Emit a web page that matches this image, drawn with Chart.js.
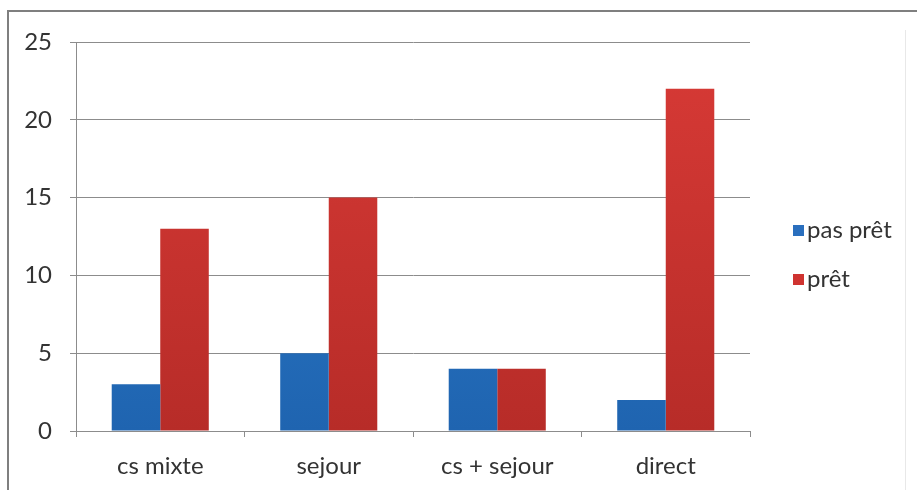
<!DOCTYPE html>
<html>
<head>
<meta charset="utf-8">
<script src="https://cdn.jsdelivr.net/npm/chart.js@4.4.1/dist/chart.umd.min.js"></script>
<style>
  html, body { margin: 0; padding: 0; background: #ffffff; }
  #wrap { width: 917px; height: 490px; position: relative; }
</style>
</head>
<body>
<div id="wrap"><canvas id="c" width="917" height="490"></canvas></div>
<script>
// Categories and series
const categories = ['cs mixte', 'sejour', 'cs + sejour', 'direct'];
const pasPret = [3, 5, 4, 2];
const pret = [13, 15, 4, 22];
const seriesNames = ['pas prêt', 'prêt'];
const yTicks = [0, 5, 10, 15, 20, 25];

const FONT = "Lato, 'Open Sans', 'Liberation Sans', sans-serif";
const FONT_SIZE = 24;
const TEXT = '#333333';
const GRID = '#8c8c8c';

// Vertical shading for the bars, lighter at the top, deeper at the base
function barFill(top, bottom) {
  return (ctx) => {
    const chart = ctx.chart;
    const area = chart.chartArea;
    if (!area) return top;
    const g = chart.ctx.createLinearGradient(0, area.top, 0, area.bottom);
    g.addColorStop(0, top);
    g.addColorStop(1, bottom);
    return g;
  };
}

// Frame around the whole figure
const framePlugin = {
  id: 'frame',
  beforeDraw(chart) {
    const c = chart.ctx;
    c.save();
    c.strokeStyle = '#7f7f7f';
    c.lineWidth = 2;
    c.beginPath();
    c.moveTo(8, 492);
    c.lineTo(8, 11);
    c.lineTo(917, 11);
    c.stroke();
    c.strokeStyle = '#e8e8e8';
    c.lineWidth = 1;
    c.beginPath();
    c.moveTo(905.5, 30);
    c.lineTo(905.5, 490);
    c.stroke();
    c.restore();
  }
};

// Legend on the right, one entry per row
const legendPlugin = {
  id: 'sideLegend',
  afterDraw(chart) {
    const c = chart.ctx;
    const x = 793, y0 = 230, step = 49;
    c.save();
    c.font = FONT_SIZE + 'px ' + FONT;
    c.textBaseline = 'middle';
    chart.data.datasets.forEach((ds, i) => {
      const y = y0 + i * step;
      c.fillStyle = ds.legendColor;
      c.fillRect(x, y - 5, 11, 11);
      c.fillStyle = TEXT;
      c.fillText(ds.label, x + 14, y);
    });
    c.restore();
  }
};

new Chart(document.getElementById('c'), {
  type: 'bar',
  data: {
    labels: categories,
    datasets: [
      {
        label: seriesNames[0],
        data: pasPret,
        backgroundColor: barFill('#2f80cf', '#1f64b0'),
        legendColor: '#2a6fbe',
        borderWidth: 0
      },
      {
        label: seriesNames[1],
        data: pret,
        backgroundColor: barFill('#d83a36', '#b72c28'),
        legendColor: '#cf3330',
        borderWidth: 0
      }
    ]
  },
  options: {
    responsive: false,
    animation: false,
    devicePixelRatio: 1,
    layout: { padding: { top: 42, right: 167, left: 0, bottom: 0 } },
    datasets: { bar: { categoryPercentage: 0.576, barPercentage: 1.0 } },
    plugins: {
      legend: { display: false },
      tooltip: { enabled: false }
    },
    scales: {
      x: {
        grid: {
          offset: true,
          drawOnChartArea: false,
          drawTicks: true,
          tickLength: 6,
          color: GRID
        },
        border: { display: true, color: GRID, width: 1 },
        ticks: {
          color: TEXT,
          font: { family: FONT, size: FONT_SIZE },
          padding: 15,
          maxRotation: 0
        },
        afterFit(scale) { scale.height = 59; }
      },
      y: {
        min: 0,
        max: 25,
        afterBuildTicks(scale) {
          scale.ticks = yTicks.map(v => ({ value: v }));
        },
        grid: {
          color: GRID,
          drawTicks: true,
          tickLength: 6
        },
        border: { display: true, color: GRID, width: 1 },
        ticks: {
          color: TEXT,
          font: { family: FONT, size: FONT_SIZE },
          padding: 18
        },
        afterFit(scale) { scale.width = 76; }
      }
    }
  },
  plugins: [framePlugin, legendPlugin]
});
</script>
</body>
</html>
